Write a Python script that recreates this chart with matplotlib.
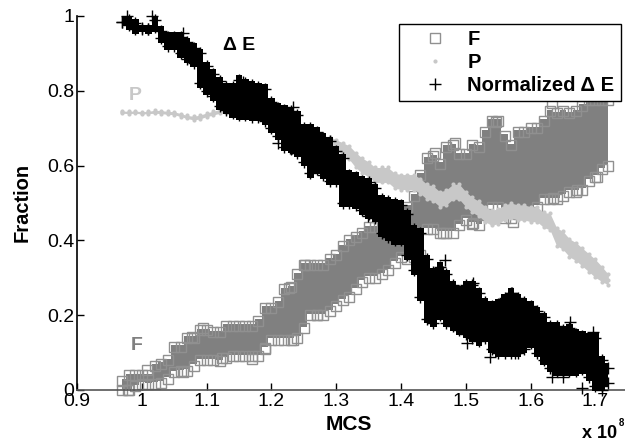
import matplotlib
matplotlib.use("Agg")
import matplotlib.pyplot as plt
import numpy as np

plt.rcParams['font.family'] = ['Liberation Sans', 'DejaVu Sans']

# MCS in units of 1e8, one column of the cloud per entry
mcs = [0.97, 0.98, 0.99, 1.00, 1.01, 1.02, 1.03, 1.04, 1.05, 1.06,
       1.07, 1.08, 1.09, 1.10, 1.11, 1.12, 1.13, 1.14, 1.15, 1.16,
       1.17, 1.18, 1.19, 1.20, 1.21, 1.22, 1.23, 1.24, 1.25, 1.26,
       1.27, 1.28, 1.29, 1.30, 1.31, 1.32, 1.33, 1.34, 1.35, 1.36,
       1.37, 1.38, 1.39, 1.40, 1.41, 1.42, 1.43, 1.44, 1.45, 1.46,
       1.47, 1.48, 1.49, 1.50, 1.51, 1.52, 1.53, 1.54, 1.55, 1.56,
       1.57, 1.58, 1.59, 1.60, 1.61, 1.62, 1.63, 1.64, 1.65, 1.66,
       1.67, 1.68, 1.69, 1.70, 1.71, 1.72]

# upper and lower edge of each cloud
f_hi = [.025, .04, .04, .04, .04, .065, .07, .08, .115, .115,
        .14, .14, .16, .16, .155, .155, .172, .172, .172, .172,
        .172, .185, .22, .22, .235, .27, .275, .31, .335, .335,
        .335, .335, .35, .36, .385, .40, .41, .42, .435, .435,
        .435, .44, .44, .45, .49, .52, .575, .62, .625, .605,
        .65, .655, .63, .63, .655, .65, .69, .72, .72, .68,
        .655, .69, .69, .70, .70, .72, .745, .74, .745, .74,
        .745, .76, .775, .775, .775, .775]
f_lo = [0, 0, .01, .017, .015, .017, .02, .03, .047, .05,
        .052, .065, .08, .08, .08, .077, .085, .09, .09, .09,
        .09, .09, .11, .135, .135, .135, .135, .14, .165, .20,
        .20, .20, .21, .225, .24, .25, .27, .29, .30, .30,
        .31, .32, .34, .355, .35, .355, .36, .43, .43, .42,
        .42, .42, .44, .455, .445, .44, .47, .49, .49, .46,
        .46, .47, .47, .475, .49, .51, .51, .51, .52, .53,
        .53, .535, .56, .57, .59, .60]
e_hi = [.985, .99, .98, .965, .965, .99, .96, .945, .945, .945,
        .93, .915, .90, .865, .845, .825, .81, .81, .83, .82,
        .815, .81, .805, .77, .755, .75, .745, .735, .70, .70,
        .69, .675, .665, .64, .62, .575, .57, .56, .555, .54,
        .51, .505, .50, .495, .47, .43, .42, .35, .315, .33,
        .31, .28, .265, .28, .28, .26, .235, .225, .23, .245,
        .26, .245, .235, .225, .21, .195, .17, .17, .16, .165,
        .15, .145, .14, .14, .08, .06]
e_lo = [.984, .975, .965, .968, .965, .97, .94, .92, .92, .90,
        .885, .875, .82, .80, .785, .76, .75, .74, .735, .735,
        .73, .73, .72, .70, .68, .65, .645, .635, .61, .58,
        .59, .575, .56, .56, .50, .50, .495, .48, .47, .46,
        .42, .41, .40, .40, .36, .32, .25, .19, .18, .20,
        .18, .17, .16, .15, .14, .13, .14, .11, .10, .10,
        .10, .10, .11, .125, .10, .08, .06, .05, .05, .05,
        .05, .055, .035, .01, .01, .02]
p_mid = [.743, .742, .743, .741, .742, .744, .743, .741, .74, .735,
         .73, .727, .73, .736, .74, .745, .745, .745, .74, .735,
         .735, .735, .735, .73, .73, .725, .72, .71, .70, .69,
         .68, .67, .665, .655, .645, .635, .615, .60, .59, .575,
         .575, .575, .56, .556, .556, .556, .545, .53, .525, .51,
         .515, .53, .53, .51, .495, .485, .47, .46, .465, .475,
         .48, .475, .475, .47, .47, .455, .45, .41, .40, .38,
         .37, .355, .34, .325, .31, .295]
p_spread = [.003, .003, .003, .003, .003, .004, .004, .004, .004, .004,
            .004, .005, .005, .005, .005, .005, .005, .005, .005, .005,
            .005, .005, .005, .006, .006, .006, .006, .006, .006, .006,
            .008, .010, .012, .014, .016, .018, .020, .020, .020, .020,
            .020, .020, .020, .020, .020, .020, .020, .020, .020, .020,
            .020, .020, .020, .020, .020, .020, .020, .020, .020, .020,
            .020, .020, .020, .020, .020, .020, .022, .024, .024, .024,
            .024, .024, .024, .024, .020, .014]

# stray marks standing clear of the clouds
f_stray_x = [1.547, 1.483, 1.633, 1.452, 1.465, 1.511, 1.573, 1.672, 1.634, 1.703,
             1.252, 1.227, 1.27, 1.094, 1.077, 1.064, 1.124, 1.17, 1.19, 1.233,
             1.008, 0.979]
f_stray_y = [.717, .66, .767, .634, .42, .447, .449, .535, .513, .57,
             .334, .273, .20, .166, .142, .048, .085, .083, .112, .134,
             .053, 0]
e_stray_x = [1.232, 1.468, 1.465, 1.511, 1.349, 1.156, 1.233, 1.21, 1.229, 1.064,
             1.016, 0.977, 1.571, 1.696, 1.661, 1.502, 1.537, 1.576, 1.65, 1.633,
             1.68, 1.71]
e_stray_y = [.647, .348, .315, .286, .465, .824, .757, .66, .647, .955,
             1.0, 1.0, .26, .155, .182, .126, .088, .10, .035, .035,
             .005, 0]

x_ticks = [0.9, 1, 1.1, 1.2, 1.3, 1.4, 1.5, 1.6, 1.7]
y_ticks = [0, 0.2, 0.4, 0.6, 0.8, 1]

GRAY_F = '#808080'
GRAY_P = '#c8c8c8'

fig = plt.figure(figsize=(6.25, 4.42), dpi=100)
ax = fig.add_axes([77/625, 1 - 390/442, (625 - 77)/625, 374/442])

# F cloud
ax.fill_between(mcs, np.array(f_lo) + 0.004, np.array(f_hi) + 0.004, step='mid', color=GRAY_F, lw=0, zorder=2)
sq = dict(ls='none', marker='s', ms=7.5, mfc='none', mec='#909090', mew=1.0, clip_on=False, zorder=2)
ax.plot(mcs, f_hi, **sq)
ax.plot(f_stray_x, f_stray_y, **sq)
h_f, = ax.plot(mcs, f_lo, **sq)

# P band
p_mid_a = np.array(p_mid)
p_spread_a = np.array(p_spread)
ax.fill_between(mcs, p_mid_a - p_spread_a, p_mid_a + p_spread_a, color=GRAY_P, lw=0, zorder=3)
ax.plot(mcs, p_mid_a + p_spread_a, ls='none', marker='o', ms=3, color=GRAY_P, mew=0, zorder=3)
ax.plot(mcs, p_mid_a - p_spread_a, ls='none', marker='o', ms=3, color=GRAY_P, mew=0, zorder=3)
h_p, = ax.plot(mcs, p_mid, ls='none', marker='o', ms=3, color=GRAY_P, mew=0, zorder=3)

# normalized delta E cloud
ax.fill_between(mcs, np.array(e_lo) - 0.012, np.array(e_hi) + 0.012, step='mid', color='black', lw=0, zorder=4)
cross = dict(ls='none', marker='+', ms=8, color='black', mew=1.0, clip_on=False, zorder=4)
ax.plot(mcs, e_hi, **cross)
ax.plot(e_stray_x, e_stray_y, **cross)
h_e, = ax.plot(mcs, e_lo, **cross)

ax.set_xlim(0.9, 0.9 + 548/648)
ax.set_ylim(0, 1)
ax.set_xticks(x_ticks)
ax.set_xticklabels(['0.9', '1', '1.1', '1.2', '1.3', '1.4', '1.5', '1.6', '1.7'])
ax.set_yticks(y_ticks)
ax.set_yticklabels(['0', '0.2', '0.4', '0.6', '0.8', '1'])
ax.tick_params(direction='in', length=5, width=1, labelsize=14, pad=2)
ax.spines['top'].set_visible(False)
ax.spines['right'].set_visible(False)
ax.spines['left'].set_linewidth(1.2)
ax.spines['bottom'].set_linewidth(1.2)
ax.spines['bottom'].set_color('#555555')

fig.text(22/625, 1 - 202/442, 'Fraction', rotation=90, fontsize=14.5, fontweight='bold', ha='center', va='center')
fig.text(349/625, 1 - 424/442, 'MCS', fontsize=15, fontweight='bold', ha='center', va='center')
fig.text(582/625, 1 - 433/442, 'x 10', fontsize=13, fontweight='bold', ha='left', va='center')
fig.text(619/625, 1 - 423/442, '8', fontsize=7, fontweight='bold', ha='left', va='center')

fig.text(239/625, 1 - 46/442, 'Δ E', fontsize=14, fontweight='bold', ha='center', va='center', color='black')
fig.text(135/625, 1 - 96/442, 'P', fontsize=14, fontweight='bold', ha='center', va='center', color=GRAY_P)
fig.text(137/625, 1 - 346/442, 'F', fontsize=14, fontweight='bold', ha='center', va='center', color=GRAY_F)

leg = ax.legend([h_f, h_p, h_e], ['F', 'P', 'Normalized Δ E'],
                loc='upper left', bbox_to_anchor=(399/625, 1 - 24/442), bbox_transform=fig.transFigure,
                borderaxespad=0, fancybox=False, framealpha=1, edgecolor='black',
                prop={'size': 14.5, 'weight': 'bold'}, handletextpad=0.1, borderpad=0.3,
                labelspacing=0.2, handlelength=3.0, numpoints=1)
leg.get_frame().set_linewidth(1.0)
leg.set_zorder(6)

plt.savefig('out.png', dpi=100)
